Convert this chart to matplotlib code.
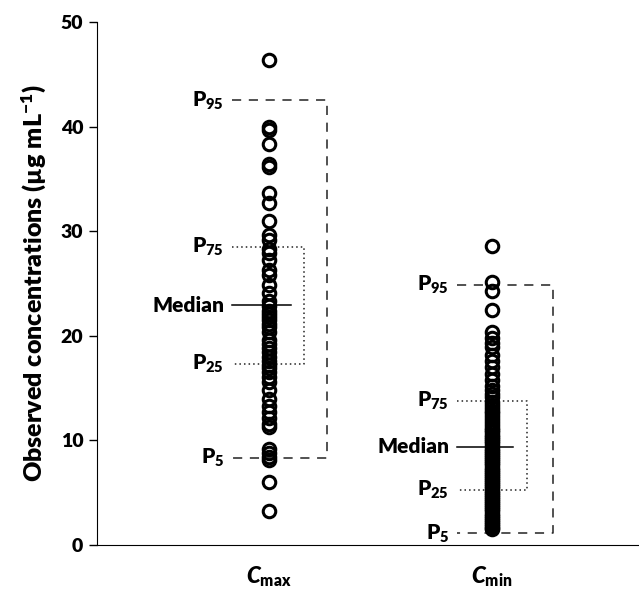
import matplotlib
matplotlib.use('Agg')
import matplotlib.pyplot as plt

plt.rcParams['font.family'] = ['Lato', 'DejaVu Sans']
plt.rcParams['font.weight'] = 'heavy'
plt.rcParams['mathtext.fontset'] = 'custom'
plt.rcParams['mathtext.rm'] = 'Lato:heavy'
plt.rcParams['mathtext.bf'] = 'Lato:heavy'
plt.rcParams['mathtext.it'] = 'Lato:italic:heavy'
plt.rcParams['mathtext.bfit'] = 'Lato:italic:heavy'

# observed concentrations (ug/mL)
cmax = [46.4, 40.0, 39.7, 38.3, 36.4, 36.1, 33.6, 32.7, 31.0, 29.6, 29.2, 28.3, 27.9,
        27.2, 26.3, 25.8, 24.9, 24.1, 23.3, 22.8, 22.4, 22.1, 21.8, 21.5, 21.1, 20.8,
        20.4, 19.6, 19.2, 18.8, 18.4, 18.0, 17.6, 17.2, 16.9, 16.5, 16.1, 15.6, 14.8,
        14.0, 13.3, 12.7, 12.1, 11.6, 11.3, 9.2, 8.8, 8.4, 8.1, 6.0, 3.2]
cmin = [28.6, 25.1, 24.3, 22.5, 20.4, 19.8, 19.3, 18.9, 18.2, 17.6, 17.0, 16.3, 15.8,
        15.2, 14.8, 14.4, 14.1,
        13.7, 13.4, 13.1, 12.8, 12.6, 12.3, 12.0, 11.8, 11.5, 11.2, 11.0, 10.8, 10.5,
        10.3, 10.1, 9.9, 9.7, 9.5,
        9.2, 9.0, 8.8, 8.6, 8.4, 8.2, 8.0, 7.8, 7.6, 7.4, 7.2, 7.0, 6.8, 6.6, 6.4, 6.2,
        6.0, 5.8, 5.6, 5.4,
        5.2, 5.0, 4.8, 4.6, 4.4, 4.2, 4.0, 3.8, 3.6, 3.4, 3.2, 3.0, 2.8, 2.6, 2.4, 2.2,
        2.0, 1.8, 1.6, 1.5]

# percentiles: P5, P25, median, P75, P95
cmax_pct = [8.3, 17.3, 22.9, 28.5, 42.5]
cmin_pct = [1.1, 5.3, 9.4, 13.8, 24.9]

groups = [r'$\mathbfit{C}_{\mathbf{max}}$', r'$\mathbfit{C}_{\mathbf{min}}$']
positions = [1, 2]

fig = plt.figure(figsize=(6.39, 5.93), dpi=100)
ax = fig.add_axes([0.152, 0.081, 0.848, 0.882])

# (left edge of lines, outer bracket x, inner bracket x, median right) relative to column
offsets = [(-0.166, 0.26, 0.157, 0.10), (-0.157, 0.274, 0.157, 0.094)]

for pos, vals, pct, off in zip(positions, [cmax, cmin], [cmax_pct, cmin_pct], offsets):
    ax.plot([pos] * len(vals), vals, 'o', ms=9, mfc='none', mec='black', mew=2.2, zorder=3)
    p5, p25, med, p75, p95 = pct
    left, outer, inner, medr = off
    dash = dict(color='#222222', lw=1.1, ls=(0, (6, 5)))
    dot = dict(color='#222222', lw=1.1, ls=(0, (1, 2)))
    ax.plot([pos + left, pos + outer, pos + outer, pos + left], [p95, p95, p5, p5], **dash)
    ax.plot([pos + left, pos + inner, pos + inner, pos + left], [p75, p75, p25, p25], **dot)
    ax.plot([pos + left, pos + medr], [med, med], color='black', lw=1.1)
    lx = pos + left - 0.035
    for v, t in zip([p95, p75, med, p25, p5],
                    [r'P$_{\mathbf{95}}$', r'P$_{\mathbf{75}}$', 'Median',
                     r'P$_{\mathbf{25}}$', r'P$_{\mathbf{5}}$']):
        ax.text(lx, v, t, ha='right', va='center', fontsize=15, fontweight='heavy')

ax.set_xlim(0.23, 2.66)
ax.set_ylim(0, 50)
ax.set_yticks([0, 10, 20, 30, 40, 50])
ax.set_xticks(positions)
ax.set_xticklabels(groups, fontsize=16)
ax.tick_params(axis='x', length=0, pad=14)
ax.tick_params(axis='y', direction='out', length=6, width=1, labelsize=14, pad=4)
for lab in ax.get_yticklabels():
    lab.set_fontweight('heavy')
ax.spines['top'].set_visible(False)
ax.spines['right'].set_visible(False)
ax.set_ylabel('Observed concentrations (µg mL$^{\\mathbf{-1}}$)', fontsize=18,
              fontweight='heavy', labelpad=9)

fig.savefig('out.png', dpi=100)
